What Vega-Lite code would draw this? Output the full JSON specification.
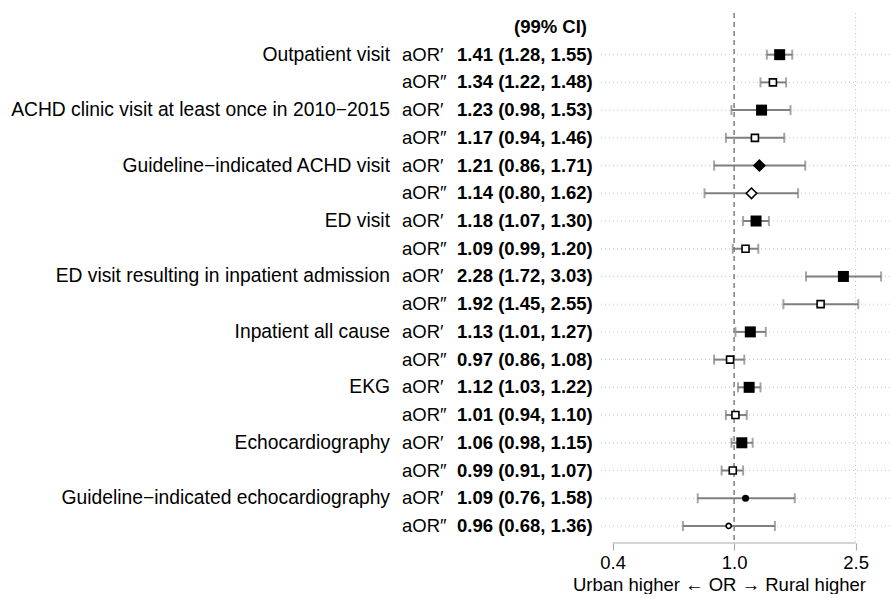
{
  "$schema": "https://vega.github.io/schema/vega-lite/v6.json",
  "padding": {"top": 12, "left": 0, "right": 0, "bottom": 0},
  "background": "white",
  "bounds": "flush",
  "config": {
    "view": {"stroke": null},
    "font": "Liberation Sans",
    "concat": {"spacing": 12}
  },
  "datasets": {
    "rows": [
      {"row": 1, "outcome": "Outpatient visit", "adj": "aOR′", "est": 1.41, "lo": 1.28, "hi": 1.55, "ci": "1.41 (1.28, 1.55)", "cat": "standard"},
      {"row": 2, "outcome": "Outpatient visit", "adj": "aOR″", "est": 1.34, "lo": 1.22, "hi": 1.48, "ci": "1.34 (1.22, 1.48)", "cat": "standard"},
      {"row": 3, "outcome": "ACHD clinic visit at least once in 2010−2015", "adj": "aOR′", "est": 1.23, "lo": 0.98, "hi": 1.53, "ci": "1.23 (0.98, 1.53)", "cat": "standard"},
      {"row": 4, "outcome": "ACHD clinic visit at least once in 2010−2015", "adj": "aOR″", "est": 1.17, "lo": 0.94, "hi": 1.46, "ci": "1.17 (0.94, 1.46)", "cat": "standard"},
      {"row": 5, "outcome": "Guideline−indicated ACHD visit", "adj": "aOR′", "est": 1.21, "lo": 0.86, "hi": 1.71, "ci": "1.21 (0.86, 1.71)", "cat": "guideline-visit"},
      {"row": 6, "outcome": "Guideline−indicated ACHD visit", "adj": "aOR″", "est": 1.14, "lo": 0.80, "hi": 1.62, "ci": "1.14 (0.80, 1.62)", "cat": "guideline-visit"},
      {"row": 7, "outcome": "ED visit", "adj": "aOR′", "est": 1.18, "lo": 1.07, "hi": 1.30, "ci": "1.18 (1.07, 1.30)", "cat": "standard"},
      {"row": 8, "outcome": "ED visit", "adj": "aOR″", "est": 1.09, "lo": 0.99, "hi": 1.20, "ci": "1.09 (0.99, 1.20)", "cat": "standard"},
      {"row": 9, "outcome": "ED visit resulting in inpatient admission", "adj": "aOR′", "est": 2.28, "lo": 1.72, "hi": 3.03, "ci": "2.28 (1.72, 3.03)", "cat": "standard"},
      {"row": 10, "outcome": "ED visit resulting in inpatient admission", "adj": "aOR″", "est": 1.92, "lo": 1.45, "hi": 2.55, "ci": "1.92 (1.45, 2.55)", "cat": "standard"},
      {"row": 11, "outcome": "Inpatient all cause", "adj": "aOR′", "est": 1.13, "lo": 1.01, "hi": 1.27, "ci": "1.13 (1.01, 1.27)", "cat": "standard"},
      {"row": 12, "outcome": "Inpatient all cause", "adj": "aOR″", "est": 0.97, "lo": 0.86, "hi": 1.08, "ci": "0.97 (0.86, 1.08)", "cat": "standard"},
      {"row": 13, "outcome": "EKG", "adj": "aOR′", "est": 1.12, "lo": 1.03, "hi": 1.22, "ci": "1.12 (1.03, 1.22)", "cat": "standard"},
      {"row": 14, "outcome": "EKG", "adj": "aOR″", "est": 1.01, "lo": 0.94, "hi": 1.10, "ci": "1.01 (0.94, 1.10)", "cat": "standard"},
      {"row": 15, "outcome": "Echocardiography", "adj": "aOR′", "est": 1.06, "lo": 0.98, "hi": 1.15, "ci": "1.06 (0.98, 1.15)", "cat": "standard"},
      {"row": 16, "outcome": "Echocardiography", "adj": "aOR″", "est": 0.99, "lo": 0.91, "hi": 1.07, "ci": "0.99 (0.91, 1.07)", "cat": "standard"},
      {"row": 17, "outcome": "Guideline−indicated echocardiography", "adj": "aOR′", "est": 1.09, "lo": 0.76, "hi": 1.58, "ci": "1.09 (0.76, 1.58)", "cat": "guideline-echo"},
      {"row": 18, "outcome": "Guideline−indicated echocardiography", "adj": "aOR″", "est": 0.96, "lo": 0.68, "hi": 1.36, "ci": "0.96 (0.68, 1.36)", "cat": "guideline-echo"}
    ]
  },
  "hconcat": [
    {
      "width": 390,
      "height": 530,
      "data": {"name": "rows"},
      "transform": [{"filter": "datum.adj === 'aOR′'"}],
      "mark": {"type": "text", "align": "right", "baseline": "middle", "fontSize": 19.3, "color": "black"},
      "encoding": {
        "x": {"datum": 1, "type": "quantitative", "scale": {"domain": [0, 1], "nice": false}, "axis": null},
        "y": {"field": "row", "type": "ordinal", "scale": {"type": "point", "domain": [0,1,2,3,4,5,6,7,8,9,10,11,12,13,14,15,16,17,18], "padding": 0.559, "align": 0.45}, "axis": null},
        "text": {"field": "outcome"}
      }
    },
    {
      "width": 43,
      "height": 530,
      "data": {"name": "rows"},
      "mark": {"type": "text", "align": "left", "baseline": "middle", "fontSize": 18.5, "color": "black"},
      "encoding": {
        "x": {"datum": 0, "type": "quantitative", "scale": {"domain": [0, 1], "nice": false}, "axis": null},
        "y": {"field": "row", "type": "ordinal", "scale": {"type": "point", "domain": [0,1,2,3,4,5,6,7,8,9,10,11,12,13,14,15,16,17,18], "padding": 0.559, "align": 0.45}, "axis": null},
        "text": {"field": "adj"}
      }
    },
    {
      "width": 130,
      "height": 530,
      "layer": [
        {
          "data": {"name": "rows"},
          "mark": {"type": "text", "align": "left", "baseline": "middle", "fontSize": 18.5, "fontWeight": "bold", "color": "black"},
          "encoding": {
            "x": {"datum": 0, "type": "quantitative", "scale": {"domain": [0, 1], "nice": false}, "axis": null},
            "y": {"field": "row", "type": "ordinal", "scale": {"type": "point", "domain": [0,1,2,3,4,5,6,7,8,9,10,11,12,13,14,15,16,17,18], "padding": 0.559, "align": 0.45}, "axis": null},
            "text": {"field": "ci"}
          }
        },
        {
          "data": {"values": [{"row": 0, "label": "(99% CI)"}]},
          "mark": {"type": "text", "align": "right", "baseline": "middle", "fontSize": 18.5, "fontWeight": "bold", "color": "black"},
          "encoding": {
            "x": {"datum": 1, "type": "quantitative", "scale": {"domain": [0, 1], "nice": false}, "axis": null},
            "y": {"field": "row", "type": "ordinal", "scale": {"type": "point", "domain": [0,1,2,3,4,5,6,7,8,9,10,11,12,13,14,15,16,17,18], "padding": 0.559, "align": 0.45}, "axis": null},
            "text": {"field": "label"}
          }
        }
      ]
    },
    {
      "width": 291,
      "height": 530,
      "encoding": {
        "y": {"field": "row", "type": "ordinal", "scale": {"type": "point", "domain": [0,1,2,3,4,5,6,7,8,9,10,11,12,13,14,15,16,17,18], "padding": 0.559, "align": 0.45}, "axis": null}
      },
      "layer": [
        {
          "data": {"name": "rows"},
          "mark": {"type": "rule", "color": "#c4c4c4", "strokeWidth": 1, "strokeDash": [1, 3]},
          "encoding": {}
        },
        {
          "data": {"values": [{"ref": 2.5}]},
          "mark": {"type": "rule", "color": "#c4c4c4", "strokeWidth": 1, "strokeDash": [1, 3]},
          "encoding": {
            "y": null,
            "x": {"field": "ref", "type": "quantitative", "scale": {"type": "log", "domain": [0.361, 3.24], "nice": false, "zero": false},
              "axis": {"values": [0.4, 1, 2.5], "format": ".1f", "domain": false, "grid": false, "ticks": true, "tickSize": 7, "tickColor": "#aaaaaa", "tickWidth": 1.2, "labelFontSize": 18.5, "labelColor": "black", "labelPadding": 3, "labelFlush": false, "title": "Urban higher ← OR → Rural higher", "titleFontSize": 18.5, "titleFontWeight": "normal", "titleColor": "black", "titlePadding": 4, "titleX": 120}}
          }
        },
        {
          "data": {"values": [{"ref": 1}]},
          "mark": {"type": "rule", "color": "#808080", "strokeWidth": 1.5, "strokeDash": [5, 4]},
          "encoding": {
            "y": null,
            "x": {"field": "ref", "type": "quantitative"}
          }
        },
        {
          "data": {"values": [{"a": 0.4, "b": 2.5}]},
          "mark": {"type": "rule", "color": "#aaaaaa", "strokeWidth": 1.2, "y": "height"},
          "encoding": {
            "y": null,
            "x": {"field": "a", "type": "quantitative"},
            "x2": {"field": "b"}
          }
        },
        {
          "data": {"name": "rows"},
          "mark": {"type": "rule", "color": "#7f7f7f", "strokeWidth": 2},
          "encoding": {
            "x": {"field": "lo", "type": "quantitative"},
            "x2": {"field": "hi"}
          }
        },
        {
          "data": {"name": "rows"},
          "mark": {"type": "tick", "color": "#7f7f7f", "size": 10, "thickness": 2, "orient": "vertical"},
          "encoding": {
            "x": {"field": "lo", "type": "quantitative"}
          }
        },
        {
          "data": {"name": "rows"},
          "mark": {"type": "tick", "color": "#7f7f7f", "size": 10, "thickness": 2, "orient": "vertical"},
          "encoding": {
            "x": {"field": "hi", "type": "quantitative"}
          }
        },
        {
          "data": {"name": "rows"},
          "transform": [{"filter": "datum.adj === 'aOR′' && datum.cat === 'standard'"}],
          "mark": {"type": "point", "shape": "square", "size": 121, "filled": true, "color": "black", "opacity": 1},
          "encoding": {"x": {"field": "est", "type": "quantitative"}}
        },
        {
          "data": {"name": "rows"},
          "transform": [{"filter": "datum.adj === 'aOR″' && datum.cat === 'standard'"}],
          "mark": {"type": "point", "shape": "square", "size": 49, "filled": false, "fill": "white", "stroke": "black", "strokeWidth": 1.6, "opacity": 1},
          "encoding": {"x": {"field": "est", "type": "quantitative"}}
        },
        {
          "data": {"name": "rows"},
          "transform": [{"filter": "datum.adj === 'aOR′' && datum.cat === 'guideline-visit'"}],
          "mark": {"type": "point", "shape": "diamond", "size": 170, "filled": true, "color": "black", "opacity": 1},
          "encoding": {"x": {"field": "est", "type": "quantitative"}}
        },
        {
          "data": {"name": "rows"},
          "transform": [{"filter": "datum.adj === 'aOR″' && datum.cat === 'guideline-visit'"}],
          "mark": {"type": "point", "shape": "diamond", "size": 110, "filled": false, "fill": "white", "stroke": "black", "strokeWidth": 1.6, "opacity": 1},
          "encoding": {"x": {"field": "est", "type": "quantitative"}}
        },
        {
          "data": {"name": "rows"},
          "transform": [{"filter": "datum.adj === 'aOR′' && datum.cat === 'guideline-echo'"}],
          "mark": {"type": "point", "shape": "circle", "size": 50, "filled": true, "color": "black", "opacity": 1},
          "encoding": {"x": {"field": "est", "type": "quantitative"}}
        },
        {
          "data": {"name": "rows"},
          "transform": [{"filter": "datum.adj === 'aOR″' && datum.cat === 'guideline-echo'"}],
          "mark": {"type": "point", "shape": "circle", "size": 26, "filled": false, "fill": "white", "stroke": "black", "strokeWidth": 1.6, "opacity": 1},
          "encoding": {"x": {"field": "est", "type": "quantitative"}}
        }
      ]
    }
  ]
}
